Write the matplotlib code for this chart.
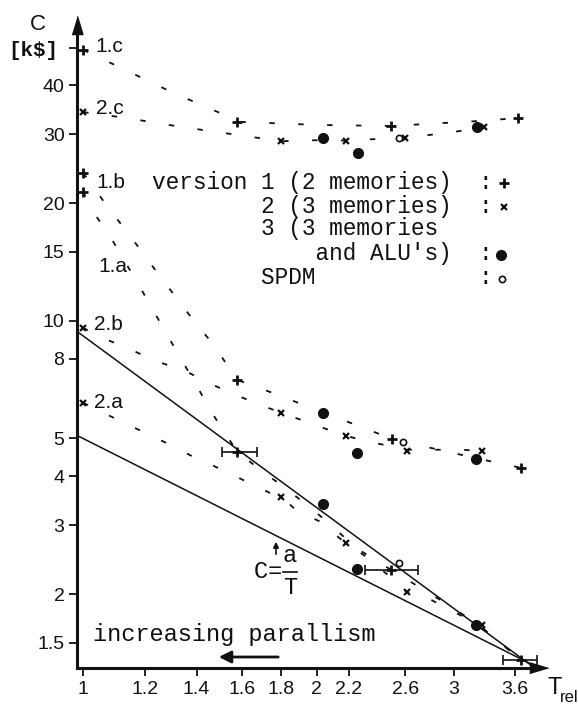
import matplotlib
matplotlib.use("Agg")
import matplotlib.pyplot as plt
from matplotlib.transforms import Affine2D
from matplotlib.ticker import FixedLocator, FixedFormatter, NullLocator

# ---------------- data ----------------
x_ticks = [1, 1.2, 1.4, 1.6, 1.8, 2, 2.2, 2.6, 3, 3.6]
x_tick_labels = ["1", "1.2", "1.4", "1.6", "1.8", "2", "2.2", "2.6", "3", "3.6"]
y_ticks = [1.5, 2, 3, 4, 5, 8, 10, 15, 20, 30, 40, 50]
y_tick_labels = ["1.5", "2", "3", "4", "5", "8", "10", "15", "20", "30", "40", ""]

# dashed cost curves (T_rel, C)
curve_1c_T = [1.0, 1.126, 1.306, 1.528, 1.58, 2.0, 2.49, 3.2, 3.63]
curve_1c_C = [49.3, 44.1, 38.3, 33.5, 32.3, 31.7, 31.5, 32.4, 33.0]
curve_2c_T = [1.0, 1.139, 1.341, 1.579, 1.80, 2.04, 2.18, 2.58, 2.94, 3.28]
curve_2c_C = [34.2, 33.0, 31.3, 29.9, 28.8, 29.0, 28.9, 29.4, 30.2, 31.3]
curve_1b_T = [1.0, 1.083, 1.139, 1.256, 1.394, 1.466, 1.58, 1.78, 1.92, 2.044, 2.276, 2.50, 2.91, 3.42, 3.66]
curve_1b_C = [23.9, 19.2, 16.9, 13.0, 9.9, 8.78, 7.06, 6.47, 6.1, 5.82, 5.36, 4.99, 4.65, 4.33, 4.21]
curve_1a_T = [1.0, 1.027, 1.09, 1.195, 1.294, 1.41, 1.474, 1.58, 1.64, 1.74, 1.84, 2.04, 2.25, 2.49, 2.9, 3.23, 3.66]
curve_1a_C = [21.4, 19.2, 16.1, 11.8, 8.94, 6.66, 5.71, 4.62, 4.36, 3.99, 3.68, 3.12, 2.62, 2.31, 1.92, 1.67, 1.36]
curve_2b_T = [1.0, 1.05, 1.139, 1.238, 1.353, 1.458, 1.607, 1.715, 1.80, 2.05, 2.18, 2.31, 2.61, 3.07, 3.26]
curve_2b_C = [9.6, 9.1, 8.53, 7.9, 7.45, 6.9, 6.35, 6.03, 5.82, 5.30, 5.08, 4.93, 4.68, 4.68, 4.65]
curve_2a_T = [1.0, 1.123, 1.202, 1.294, 1.386, 1.51, 1.627, 1.74, 1.80, 1.89, 2.04, 2.13, 2.18, 2.31, 2.56, 2.61, 2.77, 3.23, 3.66]
curve_2a_C = [6.17, 5.51, 5.17, 4.82, 4.49, 4.16, 3.87, 3.63, 3.55, 3.25, 3.04, 2.8, 2.7, 2.5, 2.11, 2.02, 1.96, 1.67, 1.36]

# markers
v1_T = [1.0, 1.58, 2.49, 3.63, 1.0, 1.0, 1.58, 2.50, 3.66, 1.58, 2.49, 3.66]
v1_C = [49.3, 32.3, 31.5, 33.0, 23.9, 21.4, 7.06, 4.99, 4.21, 4.62, 2.31, 1.36]
v2_T = [1.0, 1.80, 2.18, 2.60, 3.28, 1.0, 1.0, 1.80, 2.18, 2.61, 3.26, 1.80, 2.18, 2.61, 3.26]
v2_C = [34.2, 28.8, 28.9, 29.4, 31.3, 9.6, 6.17, 5.82, 5.08, 4.65, 4.65, 3.55, 2.70, 2.02, 1.67]
v3_T = [2.04, 2.26, 3.22, 2.04, 2.25, 3.21, 2.04, 2.25, 3.21]
v3_C = [29.4, 26.9, 31.3, 5.82, 4.59, 4.43, 3.40, 2.32, 1.67]
spdm_T = [2.55, 2.58, 2.55]
spdm_C = [29.4, 4.90, 2.40]

# horizontal error bars
err_T = [1.58, 2.49, 3.66]
err_C = [4.62, 2.31, 1.36]
err_lo = [1.51, 2.31, 3.47]
err_hi = [1.675, 2.70, 3.84]

# reference lines
line_T = [0.982, 3.80]
a_lower = 5.0           # C = a / T
a_upper, k_upper = 9.15, 1.46

ink = "#111111"
W, H = 578, 712

fig = plt.figure(figsize=(W / 100, H / 100), dpi=100)
fig.patch.set_facecolor("white")
ax = fig.add_axes([77 / W, 1 - 668 / H, 462 / W, 643 / H])
ax.set_xscale("log")
ax.set_yscale("log")
ax.set_xlim(0.982, 3.866)
ax.set_ylim(1.294, 57.1)

pix = Affine2D().scale(1 / W, -1 / H).translate(0, 1) + fig.transFigure

# dashed curves
dash = (0, (3, 13))
for T, C in [(curve_1c_T, curve_1c_C), (curve_2c_T, curve_2c_C), (curve_1b_T, curve_1b_C),
             (curve_1a_T, curve_1a_C), (curve_2b_T, curve_2b_C), (curve_2a_T, curve_2a_C)]:
    ax.plot(T, C, ls=dash, lw=1.3, color=ink)

# solid reference lines
ax.plot(line_T, [a_lower / t for t in line_T], color=ink, lw=1.1)
ax.plot(line_T, [a_upper * t ** (-k_upper) for t in line_T], color=ink, lw=1.1)

# error bars
ax.errorbar(err_T, err_C,
            xerr=[[t - l for t, l in zip(err_T, err_lo)], [h - t for t, h in zip(err_T, err_hi)]],
            fmt="none", ecolor=ink, elinewidth=1.2, capsize=3.5, capthick=1.2)

# markers
ax.plot(v1_T, v1_C, ls="none", marker="+", ms=7, mew=2.0, color=ink, clip_on=False)
ax.plot(v2_T, v2_C, ls="none", marker="x", ms=4.5, mew=1.6, color=ink, clip_on=False)
ax.plot(v3_T, v3_C, ls="none", marker="o", ms=7, color=ink, clip_on=False)
ax.plot(spdm_T, spdm_C, ls="none", marker="o", ms=4.5, mfc="white", mec=ink, mew=1.2, clip_on=False)

# axes styling
for s in ["top", "right"]:
    ax.spines[s].set_visible(False)
for s in ["left", "bottom"]:
    ax.spines[s].set_linewidth(2.2)
    ax.spines[s].set_color(ink)
ax.xaxis.set_major_locator(FixedLocator(x_ticks))
ax.xaxis.set_major_formatter(FixedFormatter(x_tick_labels))
ax.yaxis.set_major_locator(FixedLocator(y_ticks))
ax.yaxis.set_major_formatter(FixedFormatter(y_tick_labels))
ax.xaxis.set_minor_locator(NullLocator())
ax.yaxis.set_minor_locator(NullLocator())
ax.tick_params(direction="out", length=6, width=1.3, colors=ink, labelsize=14, pad=3)
for lab in ax.get_xticklabels() + ax.get_yticklabels():
    lab.set_family("Liberation Sans")

# axis arrowheads
up = [(-0.6, -1), (0.6, -1), (0, 1)]
right = [(-1, -0.6), (-1, 0.6), (1, 0)]
ax.plot([0], [1], marker=up, ms=13, color=ink, transform=ax.transAxes, clip_on=False)
ax.plot([1], [0], marker=right, ms=13, color=ink, transform=ax.transAxes, clip_on=False)

# axis titles
fig.text(38 / W, 1 - 25 / H, "C", fontsize=16, family="Liberation Sans", ha="center", va="center", color=ink)
fig.text(33 / W, 1 - 50 / H, r"[k\$]", fontsize=15, family="Liberation Mono", weight="bold",
         ha="center", va="center", color=ink)
fig.text(548 / W, 1 - 688 / H, "T", fontsize=17, family="Liberation Sans", ha="left", va="center", color=ink)
fig.text(560 / W, 1 - 697 / H, "rel", fontsize=12, family="Liberation Sans", ha="left", va="center", color=ink)

# curve labels
for txt, px, py in [("1.c", 95, 46), ("2.c", 96, 108), ("1.b", 96, 182), ("1.a", 98, 267),
                    ("2.b", 94, 325), ("2.a", 94, 403)]:
    fig.text(px / W, 1 - py / H, txt, fontsize=15, family="Liberation Sans", ha="left", va="center", color=ink)

# legend block (monospace)
mono = dict(family="Liberation Mono", fontsize=16.4, ha="left", va="center", color=ink)
rows = [("version 1 (2 memories)  :", 183),
        ("        2 (3 memories)  :", 206),
        ("        3 (3 memories", 229),
        ("            and ALU's)  :", 254),
        ("        SPDM            :", 278)]
for txt, py in rows:
    fig.text(152 / W, 1 - py / H, txt, **mono)
ax.plot([504], [183], marker="+", ms=7, mew=2.0, color=ink, transform=pix, clip_on=False)
ax.plot([504], [207], marker="x", ms=4.5, mew=1.6, color=ink, transform=pix, clip_on=False)
ax.plot([501], [255], marker="o", ms=7, color=ink, transform=pix, clip_on=False)
ax.plot([502], [279], marker="o", ms=4.5, mfc="white", mec=ink, mew=1.2, transform=pix, clip_on=False)

# C = a/T annotation
fmono = dict(family="Liberation Mono", fontsize=17, ha="center", va="center", color=ink)
fig.text(261 / W, 1 - 572 / H, "C", **fmono)
fig.text(275 / W, 1 - 572 / H, "=", **fmono)
fig.text(290 / W, 1 - 556 / H, "a", **fmono)
fig.text(290 / W, 1 - 588 / H, "T", **fmono)
ax.plot([283, 297], [572, 572], color=ink, lw=1.2, transform=pix, clip_on=False)
ax.annotate("", xy=(276 / W, 1 - 539 / H), xytext=(276 / W, 1 - 557 / H), xycoords="figure fraction",
            textcoords="figure fraction",
            arrowprops=dict(arrowstyle="-|>", color=ink, lw=1.2, mutation_scale=8))

# increasing parallelism note
fig.text(93 / W, 1 - 634 / H, "increasing parallism", family="Liberation Mono", fontsize=17,
         ha="left", va="center", color=ink)
ax.annotate("", xy=(216 / W, 1 - 657 / H), xytext=(281 / W, 1 - 657 / H), xycoords="figure fraction",
            textcoords="figure fraction",
            arrowprops=dict(arrowstyle="-|>", color=ink, lw=2.0, mutation_scale=18))

fig.savefig("out.png", dpi=100, facecolor="white")
